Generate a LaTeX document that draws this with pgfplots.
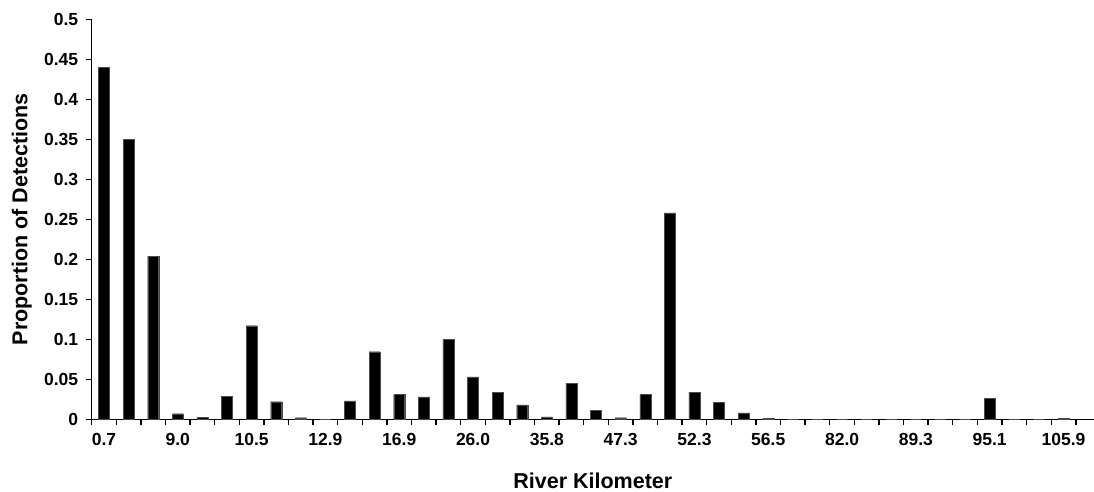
\documentclass[border=0pt]{standalone}
\usepackage{pgfplots}
\pgfplotsset{compat=1.18}
\usepackage{fontspec}
\setmainfont{Liberation Sans}
\pgfplotstableread{
x y
0 0.440
1 0.350
2 0.204
3 0.007
4 0.0025
5 0.029
6 0.117
7 0.022
8 0.002
9 0
10 0.023
11 0.0845
12 0.031
13 0.028
14 0.100
15 0.053
16 0.034
17 0.018
18 0.003
19 0.045
20 0.011
21 0.002
22 0.031
23 0.258
24 0.034
25 0.021
26 0.008
27 0.001
28 0
29 0
30 0
31 0
32 0
33 0
34 0
35 0
36 0.026
37 0
38 0
39 0.001
}\datatable
\begin{document}
\begin{tikzpicture}
\begin{axis}[
  at={(0,0)}, anchor=south west,
  scale only axis, width=1002.3bp, height=400bp,
  xmin=-0.5, xmax=40.24, ymin=0, ymax=0.5,
  axis x line*=bottom, axis y line*=left,
  axis line style={-, line width=1.6bp, black},
  tick align=outside, major tick length=6bp,
  tick style={line width=1.4bp, black},
  xtick={-0.5,0.5,...,39.5},
  x tick label as interval,
  xticklabels={0.7,,,9.0,,,10.5,,,12.9,,,16.9,,,26.0,,,35.8,,,47.3,,,52.3,,,56.5,,,82.0,,,89.3,,,95.1,,,105.9,},
  ytick={0,0.05,0.1,0.15,0.2,0.25,0.3,0.35,0.4,0.45,0.5},
  /pgf/number format/assume math mode=true,
  yticklabel style={/pgf/number format/fixed, /pgf/number format/precision=2, font=\bfseries\fontsize{17.5bp}{19bp}\selectfont, xshift=-4bp},
  xticklabel style={font=\bfseries\fontsize{17.5bp}{19bp}\selectfont, yshift=-4bp},
  xlabel={River Kilometer}, ylabel={Proportion of Detections},
  xlabel style={at={(axis description cs:0.5,-0.1725)}, anchor=base, font=\bfseries\fontsize{21.5bp}{23bp}\selectfont},
  ylabel style={at={(axis description cs:-0.06425,0.5)}, anchor=base, font=\bfseries\fontsize{21.5bp}{23bp}\selectfont},
  clip=false,
]
\addplot[ybar, bar width=11bp, fill=black, draw=black!70, line width=0.4bp] table[x=x,y=y] {\datatable};
\end{axis}
\pgfresetboundingbox
\path[use as bounding box] (-91.7bp,-72.7bp) rectangle (1002.3bp,419.3bp);
\end{tikzpicture}
\end{document}
